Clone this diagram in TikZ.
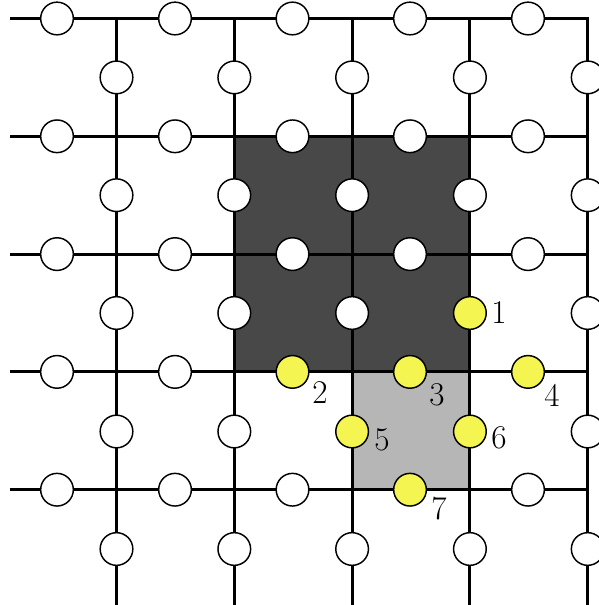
\documentclass[tikz,border=0pt]{standalone}
\usetikzlibrary{positioning}
\definecolor{plaqdark}{RGB}{72,72,72}
\definecolor{plaqlight}{RGB}{182,182,182}
\definecolor{qyellow}{RGB}{245,245,82}
\tikzset{every picture/.style={line width=0.75pt}}
\tikzset{
  edge/.style={line width=2.2pt},
  qubit/.style={circle,draw,line width=1.1pt,fill=white,minimum size=24.5pt,inner sep=0pt},
  hot/.style={fill=qyellow},
  lbl/.style={inner sep=0pt,font=\Huge},
  % highlighted qubits
  sel-h43/.style={hot},sel-h44/.style={hot},sel-h45/.style={hot},sel-h54/.style={hot},
  sel-v34/.style={hot},sel-v43/.style={hot},sel-v44/.style={hot}
}

\begin{document}
\begin{tikzpicture}[x=0.75pt,y=0.75pt,yscale=-1,xscale=1]
\useasboundingbox (0,0) rectangle (598,605);

%Plaquettes
\fill[plaqdark] (234.3,136.3) rectangle (469.9,371.9);
\fill[plaqlight] (352.1,371.9) rectangle (469.9,489.7);

%Lattice
\draw[edge] (10,18.5) -- (587.7,18.5) -- (587.7,605);
\foreach \y in {136.3,254.1,371.9,489.7}
  \draw[edge] (10,\y) -- (587.7,\y);
\foreach \x in {116.5,234.3,352.1,469.9}
  \draw[edge] (\x,18.5) -- (\x,605);

%Qubits on horizontal edges
\foreach \y [count=\i] in {18.5,136.3,254.1,371.9,489.7}
  \foreach \x [count=\j] in {57,175,292.5,410,528}
    \node[qubit,sel-h\i\j/.try] (h\i\j) at (\x,\y) {};
%Qubits on vertical edges
\foreach \y [count=\i] in {77.4,195.2,313,431.5,549}
  \foreach \x [count=\j] in {116.5,234.3,352.1,469.9,587.7}
    \node[qubit,sel-v\i\j/.try] (v\i\j) at (\x,\y) {};

% Labels
\node[lbl] (n1) at (499,313) {1};
\node[lbl] (n2) at (320,393) {2};
\node[lbl] (n3) at (437,395) {3};
\node[lbl] (n4) at (552,395) {4};
\node[lbl] (n5) at (382,440) {5};
\node[lbl] (n6) at (499,438) {6};
\node[lbl] (n7) at (439,509) {7};

\end{tikzpicture}
\end{document}
